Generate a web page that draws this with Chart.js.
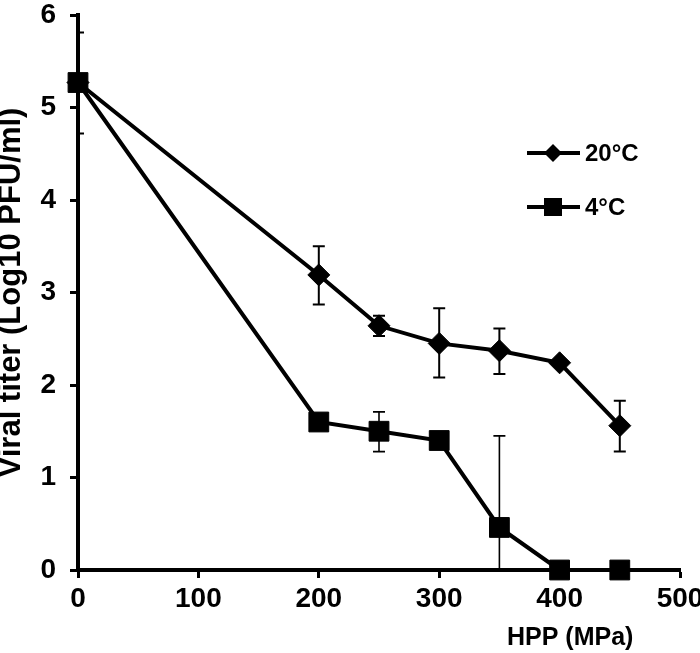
<!DOCTYPE html>
<html>
<head>
<meta charset="utf-8">
<script src="https://cdn.jsdelivr.net/npm/chart.js@4"></script>
<style>
html,body{margin:0;padding:0;background:#fff;}
#wrap{width:700px;height:653px;}
</style>
</head>
<body>
<div id="wrap"><canvas id="c" width="700" height="653"></canvas></div>
<script>
// ---- data ----
const pressures = [0, 200, 250, 300, 350, 400, 450];
const titer20 = [5.27, 3.19, 2.64, 2.45, 2.37, 2.24, 1.56];
const titer4  = [5.27, 1.60, 1.50, 1.40, 0.46, 0.00, 0.00];
const errLow20  = [4.72, 2.87, 2.53, 2.08, 2.12, null, 1.28];
const errHigh20 = [5.81, 3.50, 2.75, 2.83, 2.61, null, 1.83];
const errLow4   = [null, null, 1.28, null, 0.00, null, null];
const errHigh4  = [null, null, 1.71, null, 1.45, null, null];
const seriesLabels = ['20°C', '4°C'];
const xTicks = [0, 100, 200, 300, 400, 500];
const yTicks = [0, 1, 2, 3, 4, 5, 6];
const xTitle = 'HPP (MPa)';
const yTitle = 'Viral titer (Log10 PFU/ml)';

const FONT = '"Liberation Sans", Arial, sans-serif';
const NARROW = '"Liberation Sans Narrow", "Arial Narrow", "Liberation Sans", sans-serif';

const errorBars = {
  id: 'errorBars',
  beforeDatasetsDraw(chart) {
    const ctx = chart.ctx;
    const xs = chart.scales.x, ys = chart.scales.y;
    const a = chart.chartArea;
    chart.data.datasets.forEach(ds => {
      ctx.save();
      ctx.beginPath();
      ctx.rect(a.left, a.top - 2, a.right - a.left + 2, a.bottom - a.top + 2);
      ctx.clip();
      ctx.strokeStyle = '#000';
      ctx.lineWidth = ds.errWidth || 2;
      pressures.forEach((p, i) => {
        const lo = ds.errLow[i], hi = ds.errHigh[i];
        if (lo == null || hi == null) return;
        const x = xs.getPixelForValue(p);
        const y1 = ys.getPixelForValue(lo), y2 = ys.getPixelForValue(hi);
        ctx.beginPath();
        ctx.moveTo(x, y1); ctx.lineTo(x, y2);
        const cw = 6;
        if (lo > 0) { ctx.moveTo(x - cw, y1); ctx.lineTo(x + cw, y1); }
        ctx.moveTo(x - cw, y2); ctx.lineTo(x + cw, y2);
        ctx.stroke();
      });
      ctx.restore();
    });
  },
  afterDraw(chart) {
    const ctx = chart.ctx;
    ctx.save();
    // x-axis title
    ctx.fillStyle = '#000';
    ctx.font = 'bold 25px ' + FONT;
    ctx.textBaseline = 'alphabetic';
    ctx.textAlign = 'left';
    ctx.fillText(xTitle, 507, 645);
    // legend
    const rows = [153, 207];
    chart.data.datasets.forEach((ds, i) => {
      const y = rows[i];
      ctx.strokeStyle = '#000';
      ctx.lineWidth = 4;
      ctx.beginPath(); ctx.moveTo(527, y); ctx.lineTo(580, y); ctx.stroke();
      ctx.fillStyle = '#000';
      ctx.beginPath();
      if (ds.pointStyle === 'rectRot') {
        const r = 9;
        ctx.moveTo(553 - r, y); ctx.lineTo(553, y - r); ctx.lineTo(553 + r, y); ctx.lineTo(553, y + r);
      } else {
        const s = 9;
        ctx.rect(553 - s, y - s, 2 * s, 2 * s);
      }
      ctx.closePath(); ctx.fill();
      ctx.font = 'bold 24px ' + FONT;
      ctx.textBaseline = 'middle';
      ctx.fillText(ds.label, 585, y + 1);
    });
    ctx.restore();
  }
};

const toPts = arr => pressures.map((p, i) => ({x: p, y: arr[i]}));

new Chart(document.getElementById('c'), {
  type: 'line',
  data: {
    datasets: [
      {
        label: seriesLabels[0], data: toPts(titer20),
        errLow: errLow20, errHigh: errHigh20, errWidth: 2,
        borderColor: '#000', backgroundColor: '#000', borderWidth: 4,
        pointStyle: 'rectRot', pointRadius: 11, pointBorderWidth: 1,
        pointBackgroundColor: '#000', pointBorderColor: '#000',
        tension: 0, clip: false
      },
      {
        label: seriesLabels[1], data: toPts(titer4),
        errLow: errLow4, errHigh: errHigh4, errWidth: 1.6,
        borderColor: '#000', backgroundColor: '#000', borderWidth: 4,
        pointStyle: 'rect', pointRadius: 14, pointBorderWidth: 1,
        pointBackgroundColor: '#000', pointBorderColor: '#000',
        tension: 0, clip: false
      }
    ]
  },
  options: {
    responsive: false,
    animation: false,
    devicePixelRatio: 1,
    layout: { padding: { top: 12, right: 20, left: 0, bottom: 0 } },
    plugins: { legend: { display: false }, tooltip: { enabled: false } },
    scales: {
      x: {
        type: 'linear', min: 0, max: 500,
        afterBuildTicks: s => { s.ticks = xTicks.map(v => ({value: v})); },
        afterFit: s => { s.height = 83; s.paddingLeft = 0; s.paddingRight = 0; },
        border: { display: true, color: '#000', width: 4 },
        grid: { display: true, drawOnChartArea: false, drawTicks: true, tickLength: 8, tickWidth: 3, tickColor: '#000' },
        ticks: { color: '#000', font: { family: NARROW, size: 28, weight: 'bold' }, padding: 4, maxRotation: 0 }
      },
      y: {
        type: 'linear', min: 0, max: 6,
        afterBuildTicks: s => { s.ticks = yTicks.map(v => ({value: v})); },
        afterFit: s => { s.width = 78; s.paddingTop = 0; s.paddingBottom = 0; },
        border: { display: true, color: '#000', width: 4 },
        grid: { display: true, drawOnChartArea: false, drawTicks: true, tickLength: 8, tickWidth: 3, tickColor: '#000' },
        ticks: { color: '#000', font: { family: NARROW, size: 28, weight: 'bold' }, padding: 14 },
        title: { display: true, text: yTitle, color: '#000', font: { family: FONT, size: 31, weight: 'bold', lineHeight: 0.75 }, padding: 0 }
      }
    }
  },
  plugins: [errorBars]
});
</script>
</body>
</html>
